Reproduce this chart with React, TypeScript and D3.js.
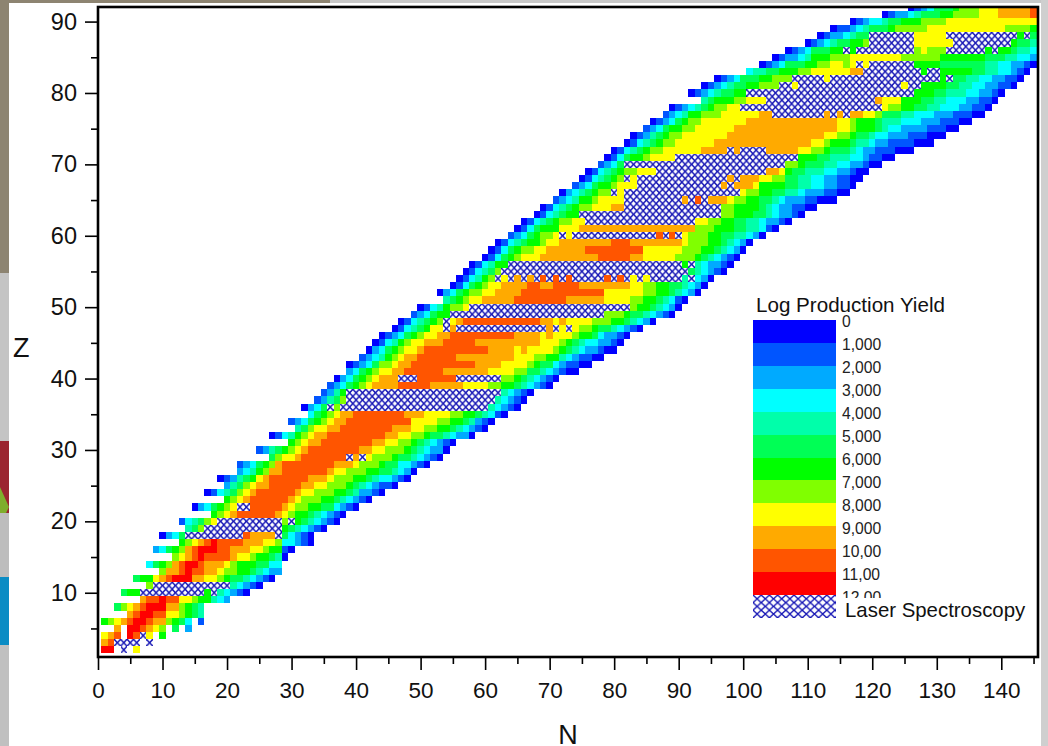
import * as d3 from "d3";
import { useEffect, useRef } from "react";

const width = 1048;
const height = 746;
const margin = { top: 7, right: 10, bottom: 90, left: 98 };
const font = "'Liberation Sans', Arial, sans-serif";

// colour levels of the yield scale, low to high
const levelColors = ["#0000ff", "#0055ff", "#00aaff", "#00ffff", "#00ffaa", "#00ff55", "#00ff00", "#80ff00", "#ffff00", "#ffaa00", "#ff5500", "#ff0000"];
const legendLabels = ["0", "1,000", "2,000", "3,000", "4,000", "5,000", "6,000", "7,000", "8,000", "9,000", "10,00", "11,00", "12,00"];

const xTicks = [0, 10, 20, 30, 40, 50, 60, 70, 80, 90, 100, 110, 120, 130, 140];
const xMinor = [5, 15, 25, 35, 45, 55, 65, 75, 85, 95, 105, 115, 125, 135, 145];
const yTicks = [10, 20, 30, 40, 50, 60, 70, 80, 90];
const yMinor = [5, 15, 25, 35, 45, 55, 65, 75, 85];

// Z of every row, and the N of the first cell in that row
const rowZ = [2, 3, 4, 5, 6, 7, 8, 9, 10, 11, 12, 13, 14, 15, 16, 17, 18, 19, 20, 21, 22, 23, 24, 25, 26, 27, 28, 29, 30, 31, 32, 33, 34, 35, 36, 37, 38, 39, 40, 41, 42, 43, 44, 45, 46, 47, 48, 49, 50, 51, 52, 53, 54, 55, 56, 57, 58, 59, 60, 61, 62, 63, 64, 65, 66, 67, 68, 69, 70, 71, 72, 73, 74, 75, 76, 77, 78, 79, 80, 81, 82, 83, 84, 85, 86, 87, 88, 89, 90, 91, 92];
const rowStart = [1, 1, 1, 3, 1, 5, 3, 7, 4, 8, 6, 10, 8, 12, 9, 13, 10, 14, 13, 18, 15, 20, 17, 20, 19, 22, 22, 27, 25, 30, 27, 31, 30, 33, 32, 34, 35, 36, 37, 39, 39, 41, 42, 43, 44, 46, 47, 49, 50, 54, 53, 55, 56, 57, 58, 60, 61, 62, 64, 65, 66, 68, 69, 71, 72, 74, 75, 76, 78, 79, 80, 82, 83, 85, 86, 88, 89, 94, 92, 94, 96, 101, 103, 105, 107, 110, 112, 114, 117, 122, 126];

// cells of every row as runs: level*count, H = laser spectroscopy, _ = no data
const rowRuns = [
  "11*2 _ H _ 8",
  "9 10 H*4 _ H",
  "8 9 10 _ 11 10 H 8 _ 6",
  "9 _ 11*2 10 9 8 7 _ 5 _ 2",
  "6 7 8 9 10 11*2 10 9*2 7 6 5 3 _ 1",
  "9 10 11*2 10*2 8*2 7 6 5 4",
  "5 7 8 9 10 11*3 9*2 7 6 5 4",
  "9 10*2 11 10*2 8*2 7 6*2 4 3 2",
  "5 6*2 H*10 6 H 4 3 2 1 0",
  "7 H*12 4 3 2 1 0",
  "5 6*2 8 9 10 11*3 9*2 8*2 7 6 5*2 4 3 2 1 0",
  "7 9*2 10 11 10*2 9*2 8 7*2 6*2 5 4 3 2*2",
  "3 5 6 7 9 10 11*2 10 9*3 8 7 6*3 5*2 3*2",
  "7 8 9 10 11 10*4 9 8*2 7 6*2 5 4 0",
  "2 3 5 6 7 9 10 11*3 10*2 9*3 8*2 7 6*2 1 0",
  "6 7 8 9 10 11 10*4 9*3 8*2 7 3*2 2 1 0",
  "0 2 3 5 H*9 10 9*4 H 5 3 2 1 0",
  "4 5 7 H*12 6 5 4 3 2 1 0",
  "1 3 4 5 7 8 H*10 7 H 6 5 4 3 2 1 0",
  "6 7 8 9 10*6 9 8 7 6*2 5 4 3 2 1 0",
  "0 2 3 5 6 7 8 H*2 10*5 9 8 7*2 6*2 5*2 3 2 1 0",
  "6 7 8 9 10*6 9 8 7*3 6*2 5 4 3 2 1 0",
  "0 1 3 4 5 7 8 9 10*6 9 8*2 7*3 6*2 5 4 2*2 1 0",
  "2 4 5 7 8 9*2 10*5 9*2 8*2 7*3 6 5 4 3 2 1*2 0",
  "0 1 2 4 5 6 8 9 10*6 9*3 8 7*3 6*2 5 4 3*2 2 1 0",
  "2 3 4 6 7 9*2 10*7 9 8*2 7*3 6*2 5*2 4 3 2 0",
  "1 2 3 5 6 7 9 10*8 9*3 8 7*3 6 5*2 3*2 2 1 0",
  "5 7 8*2 9 10*7 H 9 H 8 7*3 6 5*2 4 3 2 1 0",
  "1 2 4 5 6 7 8 9 10*8 9*2 8*2 7*3 6 5 4 3 2*2 0",
  "6 7 8 9*2 10*8 9*2 8*2 7*2 6 5 4 3 2 1 0",
  "0 1 3 4 6 7 8 9*2 10*9 9*2 8*2 7*2 6 5*2 4 3 2*2 0",
  "4 5 7 8*2 9*2 10*8 9*3 8*2 7*2 6*2 5 4 3 2 1 0",
  "1 2 3 5 6 7 8 9*2 10*10 8*4 7*2 6*2 5 4 2 1 0",
  "3 5 6 7 8 9*2 10*8 9*3 8*4 7*2 6*2 5 4 3 1 0",
  "0 2 3 5 H 7 H*23 4 3 2 1 0",
  "1 2 4 5 7 H*23 4 3 2 1 0",
  "1 2 4 6 H*24 4 3 2 1 0",
  "1 2 3 5 6 7 8 9*4 10*5 9*5 8*4 7*2 6*2 5 4 3 2 1 0",
  "0 2 3 5 6 7 8 9*3 H*3 10*6 H*7 7*2 6 5 4 3 2 1 0",
  "2 3 5 6 7 8*2 9*2 10*6 9*7 8*4 7*2 5*2 4 3 2 1 0*2",
  "0 1 2 3 5 7*2 8 9*2 10*10 9*4 8*4 7 6 5*2 3 2 1*2 0*2",
  "1 2 3 4 6 7 8 9*2 10*6 9*9 8*3 7*2 6*2 4 3 2 1*2 0*2",
  "0 2 3 5 6 7 8*2 9 10*10 9*4 8 9 8*4 7 6 5 4 3 2*2 1 0*2",
  "0 1 3 4 6 7 8*2 9*3 10*5 9*10 8*3 7 6 5 4 3*2 2*2 1 0",
  "0 1 2 3 5 6 7 8*2 9*2 10*10 9*4 8 9 8*3 7 6*2 5 3 2*2 1 0",
  "0 1 3 4 5 6 8*2 H 9 H*14 9 H 8 H 8 7*2 6 5*2 4 3 2 1 0",
  "0 1 3 4 5 6 7 H 8 9 10*12 9*2 8 9 8*4 7*3 6*2 5 4 3 2 0",
  "1 2 3 5 6*2 H*24 7*3 6 5*2 4 3 2 1 0",
  "0 1 3 4 6 7*2 8 H*25 7 6*2 5 4 3 2 0",
  "4 5 6 7 8*2 9*5 10*8 9*6 8*4 7*2 6*2 5 4 3 1 0",
  "0 2 3 5 6 7*2 8*2 9*4 10*13 8*6 7*2 6*2 5 4 3 2 0",
  "0 1 3 5 6 7 8*2 9*4 10*2 9*2 10*4 9*8 8*2 7*2 6*2 5*2 4 3 2 0",
  "0 1 3 4 6 7 H 8 H 9 H 9 H 10 H 10 H 10 H*5 10 H 10 H 8 H 8 H*5 4 H 3 2 0",
  "0 1 3 4 5 7 H*29 5 4 3 2 1 0",
  "0 1 3 4 6*2 H*27 6 H 4 3 2*2 1 0",
  "0 1 3 5 6 7 8*3 9*9 10*5 9*2 8*5 7*3 6 5 4 3 2 1 0",
  "0 1 3 5 6 7*2 8*2 9*6 10*9 8*6 7*3 6*2 5 4 3 2 0",
  "0 1 3 4 5 6*2 7 8*2 9*8 10*3 9*8 8 7*3 6*2 5 4 3 2 0",
  "1 2 3 5 6 7*2 8 H 8 H*13 10 H 10 H 8 7*3 6*2 5*2 4*2 3 2 0",
  "0 1 3 5 6*3 8*3 9*18 7*3 6*3 5*2 4*2 3 1 0",
  "0 1 3 4 5 6 7*2 8*2 H*17 8*2 7*2 6*2 5*2 4*2 3 2*2 1 0",
  "0 1 3 4 5 6*2 H*22 7*2 6*3 5*2 4 3 2*2 1 0",
  "0 1 3 4 5 6 7*2 8*3 9*2 H*15 7*2 6*4 5 4 3 2*2 1*2 0*2",
  "1 2 3 4 6*2 7 8*4 H*9 9 H 10 H 9*3 8 7*2 6*2 5*2 4 3 2*3 1*2 0*3",
  "0 2 3 4 5 6 7*2 H 8 H*18 8 7*2 6*2 5*2 4*2 3 2*3 1*2 0*2",
  "1 2 3 5 6*2 7 8*3 H*13 9 H 9*3 8 6*4 5*2 4*2 3*2 2*2 1*2 0",
  "0 1 3 4 5 6 7 H 8 H*14 9 H 9*3 8*2 7*2 5*2 4*2 3*2 2*2 1*2 0*2",
  "0 1 3 4 5 6 7*2 8*3 H*17 9*2 8 6 5*2 4*3 3*2 2*2 1 0*2",
  "1 2 3 5 H*25 7*2 6 5*3 4*2 3*2 2*2 1 0*2",
  "0 1 3 5 6*2 7 8*4 H*19 6*3 5*2 4*3 3*2 2 1*2 0*2",
  "0 1 3 4 5 6 7*2 8*6 9*4 H 9 H*4 9*5 8*2 7*2 6 5*3 4 3 2*2 1*3 0*3",
  "0 1 3 4 5 6 7*2 8*6 9*15 8*2 7 6*3 5 4*2 3 2*2 1*4 0*3",
  "0 1 2 4 5 6 7*2 8*7 9*15 8*2 7*2 6 5*2 4 3*2 2*3 1*3 0*3",
  "1 2 3 5 6*2 7*2 8*6 9*16 8*2 7 6*3 5 4 3*2 2*4 1*3 0*2",
  "0 1 2 3 5 6 7*2 8*7 9*14 8*2 7 6*3 5 4*3 3*3 2*3 1*3 0*2",
  "1 2 3 4 6*2 7*3 8*6 9*2 H*8 9 H 9 H 9*2 8*2 7 5*3 4*2 3*3 2*3 1*3 0*2",
  "0 1 2 3 4 5 6 7*2 8*2 H*22 8 7*2 6*2 5*2 4*2 3*3 2*2 1*2 0",
  "4 5 6*3 7*2 8*3 H*17 9 8*3 6*3 5*2 4*2 3*3 2*2 1*2 0",
  "0 1 2 3 4 5*2 6*2 H*26 6*3 5*2 4*3 3*2 2*2 1 0",
  "0 1 2 3 4 5*2 6*2 7*3 H*2 8 H*16 8 H*2 6*4 5*2 4*2 3*2 2*2 1*2 0",
  "0 1 2 3 5*3 6*2 7*3 H*5 8 H*17 6 H 5*2 4*2 3*2 2*2 1*2 0",
  "3 4*2 5*2 6*3 7*2 8*6 9*2 H*9 6 H*2 6*5 5*2 4*2 3*2 2 1 0",
  "0 1 2 3 5*3 6*2 7*2 8*2 7 8 H 8 H*7 6*4 5*7 4*2 3*2 2*2 1 0",
  "0 1 2*2 3 4 6*3 7*3 8*8 7*6 6*7 5*3 4*2 3*2 2",
  "0 1 2 3 5*3 6*2 H 6 H*9 7 8 7*3 H*6 6 H 6*2 5 4*2 3",
  "0 1 2 3 4 5*2 6*2 7 H*7 8*6 H*9 6 5*2 4",
  "0 1 2*2 3 4 5*2 H*7 8*5 H*11 6 H 5",
  "0 1*2 2 3 4 5*3 6 7*5 8*12 7*4 6",
  "0 1 2 3*2 4 5*2 6*3 7*4 8*14",
  "0 1 2*2 3 4 5*3 6*2 7*4 8*3 9*5 10",
  "0 1 2 3 5*3 6 7*3 8*3 9*5 10",
];

// expands the runs of one row to { n, z, level } cells
const expandRow = (z: number, start: number, runs: string) => {
  const cells: { n: number; z: number; level: string }[] = [];
  let n = start;
  for (const token of runs.split(" ")) {
    const [level, count] = token.split("*");
    for (let i = 0; i < +(count || 1); i++) {
      if (level !== "_") cells.push({ n, z, level });
      n++;
    }
  }
  return cells;
};

const cells = rowZ.flatMap((z, i) => expandRow(z, rowStart[i], rowRuns[i]));

const App = () => {
  const xRef = useRef<SVGGElement>(null);
  const yRef = useRef<SVGGElement>(null);

  const innerRight = width - margin.right;

  const x = d3.scaleLinear().domain([0, 146]).range([margin.left, 98.3 + 146 * 6.45]);
  const y = d3.scaleLinear().domain([1, 92]).range([657, 7.3]);
  const color = d3.scaleOrdinal<string, string>().domain(levelColors.map((_, i) => String(i))).range(levelColors);

  const cellW = x(1) - x(0);
  const cellH = y(1) - y(2);

  const legendY = d3.scaleBand<number>().domain(levelColors.map((_, i) => i)).range([320, 595]);
  const labelY = d3.scalePoint<string>().domain(legendLabels).range([321, 597.5]);

  useEffect(() => {
    const xAxis = d3.select(xRef.current);
    xAxis.selectAll("*").remove();
    xAxis.append("g").call(d3.axisBottom(x).tickValues(xMinor).tickSize(7).tickFormat(() => ""));
    xAxis.append("g").call(d3.axisBottom(x).tickValues(xTicks).tickSize(13).tickPadding(12).tickFormat(d3.format("d")));
    xAxis.selectAll("text").style("font-family", font).style("font-size", "22.5px").attr("fill", "#111");
    xAxis.selectAll(".domain").remove();
    xAxis.selectAll("line").attr("stroke", "#000").attr("stroke-width", 1.6);

    const yAxis = d3.select(yRef.current);
    yAxis.selectAll("*").remove();
    yAxis.append("g").call(d3.axisLeft(y).tickValues(yMinor).tickSize(7).tickFormat(() => ""));
    yAxis.append("g").call(d3.axisLeft(y).tickValues(yTicks).tickSize(13).tickPadding(8).tickFormat(d3.format("d")));
    yAxis.selectAll("text").style("font-family", font).style("font-size", "23.5px").attr("fill", "#111");
    yAxis.selectAll(".domain").remove();
    yAxis.selectAll("line").attr("stroke", "#000").attr("stroke-width", 1.6);
  }, []);

  return (
    <svg width={width} height={height} style={{ position: "absolute", left: 0, top: 0, background: "#fff" }}>
      <defs>
        <pattern id="hatch" patternUnits="userSpaceOnUse" x={x(-0.5)} y={y(92.5)} width={cellW} height={cellH}>
          <rect width={cellW} height={cellH} fill="#fff" />
          <path d={`M0,0L${cellW},${cellH}M${cellW},0L0,${cellH}`} stroke="#1414b4" strokeWidth={1.4} />
        </pattern>
        <pattern id="hatchLegend" patternUnits="userSpaceOnUse" x={753} y={595} width={8.2} height={7.6}>
          <rect width={8.2} height={7.6} fill="#fff" />
          <path d="M0,0L8.2,7.6M8.2,0L0,7.6" stroke="#1414b4" strokeWidth={1.3} />
        </pattern>
        <clipPath id="plotClip">
          <rect x={margin.left} y={margin.top} width={innerRight - margin.left} height={657 - margin.top} />
        </clipPath>
        <clipPath id="labelClip">
          <rect x={836} y={310} width={60} height={288} />
        </clipPath>
        <clipPath id="stripClip">
          <rect x={0} y={260} width={9} height={180} />
        </clipPath>
        <filter id="soften" x="0" y="0" width="100%" height="100%">
          <feGaussianBlur stdDeviation="0.45" />
        </filter>
      </defs>

      {/* what is left of the page behind the screenshot */}
      <rect x={0} y={0} width={9} height={273} fill="#8d8471" />
      <rect x={0} y={273} width={9} height={168} fill="#c4c4c4" />
      <text x={-11} y={406} fontFamily={font} fontSize={52} fill="#000" clipPath="url(#stripClip)">i</text>
      <rect x={0} y={441} width={9} height={72} fill="#9b2530" />
      <path d="M0,487L9,507L0,525Z" fill="#7fae2c" />
      <rect x={0} y={513} width={9} height={64} fill="#bdbdbd" />
      <rect x={0} y={577} width={9} height={68} fill="#0a8cc4" />
      <rect x={0} y={645} width={9} height={101} fill="#c0c0c0" />
      <rect x={0} y={0} width={330} height={3} fill="#8d8471" />
      <rect x={330} y={0} width={718} height={3} fill="#c8c8c8" />
      <rect x={1041} y={0} width={7} height={746} fill="#cfcfcf" />

      <g clipPath="url(#plotClip)">
        <g filter="url(#soften)" shapeRendering="crispEdges">
          {cells.map((d) => (
            <rect
              key={`${d.n}-${d.z}`}
              x={x(d.n - 0.5)}
              y={y(d.z + 0.5)}
              width={cellW}
              height={cellH}
              fill={d.level === "H" ? "url(#hatch)" : color(d.level)}
            />
          ))}
        </g>
      </g>

      <rect x={margin.left} y={margin.top} width={innerRight - margin.left} height={657 - margin.top} fill="none" stroke="#000" strokeWidth={2.6} />
      <g ref={xRef} transform="translate(0,657)" />
      <g ref={yRef} transform={`translate(${margin.left},0)`} />

      <text x={568} y={744} textAnchor="middle" fontFamily={font} fontSize={27} fill="#111">N</text>
      <text x={13} y={357} fontFamily={font} fontSize={27} fill="#111">Z</text>

      {/* legend */}
      <text x={756} y={311.5} fontFamily={font} fontSize={20.6} fill="#111">Log Production Yield</text>
      <g shapeRendering="crispEdges">
        {levelColors.map((c, i) => (
          <rect key={c} x={753} y={legendY(i)} width={83} height={legendY.bandwidth()} fill={c} />
        ))}
        <rect x={753} y={595} width={83} height={22.5} fill="url(#hatchLegend)" />
      </g>
      <g clipPath="url(#labelClip)">
        {legendLabels.map((t) => (
          <text key={t} x={842} y={labelY(t)} dy="0.36em" fontFamily={font} fontSize={15.7} fill="#222">{t}</text>
        ))}
      </g>
      <text x={845} y={617} fontFamily={font} fontSize={20.4} fill="#111">Laser Spectroscopy</text>
    </svg>
  );
};

export default App;
